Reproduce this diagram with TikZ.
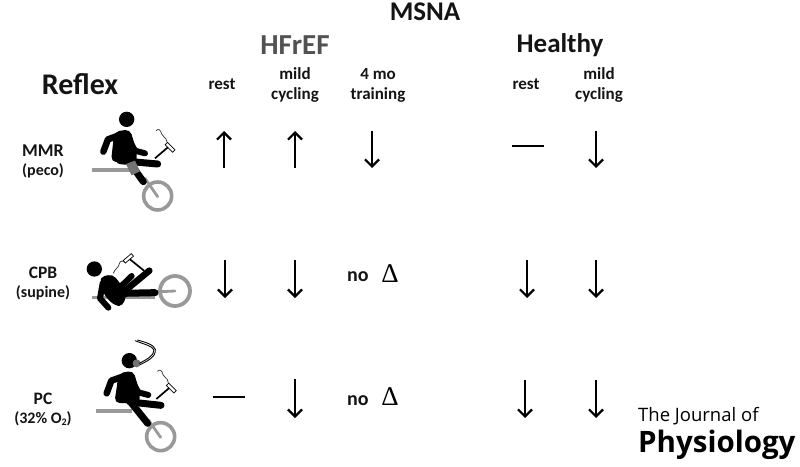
\documentclass[tikz,border=0pt]{standalone}
\usepackage{fontspec}
\setmainfont{Carlito}
\newfontfamily\dfont{Liberation Serif}
\newfontfamily\logofont{Open Sans}
\usetikzlibrary{arrows.meta}
\tikzset{
  lab/.style={font=\bfseries\fontsize{16}{19}\selectfont,align=center,inner sep=0pt,text=black!92},
  hdr/.style={font=\bfseries\fontsize{17}{20}\selectfont,align=center,inner sep=0pt,text=black!92},
  ttl/.style={font=\bfseries\fontsize{27}{28}\selectfont,inner sep=0pt,text=black!92},
  arr/.style={line width=2.2pt,-{Straight Barb[length=7pt,width=14pt,line width=2.2pt]}},
  flat/.style={line width=2pt},
  limb/.style={line cap=round,line join=round,draw=black},
  greyp/.style={draw=black!40,line cap=butt},
  hammer/.style={draw=black,fill=white,line width=0.7pt},
}
\newcommand{\hammerat}[2]{%
  \begin{scope}[shift={(#1,#2)}]
    \draw[line width=1.7pt,black] (-3,35)--(38,0);
    \draw[hammer,rotate around={-45:(42,2)}] (26,-3) rectangle (58,7);
    \draw[line width=0.7pt,black!80] (0,-48) .. controls (8,-56) and (14,-50) .. (17,-38) .. controls (20,-26) and (30,-32) .. (33,-14);
  \end{scope}}
\begin{document}
\begin{tikzpicture}[x=1pt,y=-1pt]
\useasboundingbox (0,0) rectangle (800,466);
% headers
\node[ttl] (msna) at (425,12) {MSNA};
\node[ttl,font=\bfseries\fontsize{29}{30}\selectfont,text=black!68] (hf) at (295,45) {HFrEF};
\node[ttl] (he) at (560,45) {Healthy};
\node[ttl,font=\bfseries\fontsize{30}{30}\selectfont] (refl) at (80,84) {Reflex};
\node[hdr] (h1) at (222,84) {rest};
\node[hdr] (h2) at (295,85) {mild\\cycling};
\node[hdr] (h3) at (378,85) {4 mo\\training};
\node[hdr] (h4) at (526,84) {rest};
\node[hdr] (h5) at (599,85) {mild\\cycling};
% row labels
\node[lab] (r1) at (43,161) {\fontsize{18}{19}\selectfont MMR\\(peco)};
\node[lab] (r2) at (43,284) {\fontsize{17.5}{19}\selectfont CPB\\(supine)};
\node[lab] (r3) at (43,409) {\fontsize{17.5}{19}\selectfont PC\\\fontsize{16}{19}\selectfont (32\% O\raisebox{-0.3ex}{\fontsize{10}{10}\selectfont 2})};
% responses
\draw[arr] (224,168)--(224,131);
\draw[arr] (295,168)--(295,131);
\draw[arr] (372,131)--(372,168);
\draw[flat] (512,146)--(544,146);
\draw[arr] (596,131)--(596,168);
\draw[arr] (225,260)--(225,298);
\draw[arr] (295,260)--(295,298);
\node[hdr,anchor=west,font=\bfseries\fontsize{20}{22}\selectfont] (n1) at (347,277) {no};
\node[inner sep=0pt,font=\dfont\fontsize{27}{28}\selectfont] (d1) at (390,274) {Δ};
\draw[arr] (527,260)--(527,298);
\draw[arr] (596,260)--(596,298);
\draw[flat] (213,397)--(245,397);
\draw[arr] (295,379)--(295,418);
\node[hdr,anchor=west,font=\bfseries\fontsize{20}{22}\selectfont] (n2) at (347,401) {no};
\node[inner sep=0pt,font=\dfont\fontsize{27}{28}\selectfont] (d2) at (390,397) {Δ};
\draw[arr] (525,380)--(525,418);
\draw[arr] (596,380)--(596,418);
% figure 1
\begin{scope}[shift={(80,100)},x=0.3333pt,y=-0.3333pt]
  \draw[greyp,line width=3.6pt] (37,210)--(150,210);
  \draw[greyp,line width=3.6pt] (233,288) circle (42);
  \draw[greyp,line width=2.8pt,line cap=round] (195,235)--(233,290);
  \fill (140,58) circle (23);
  \fill[rounded corners=5pt] (103,95)--(150,88)--(163,130)--(170,155)--(170,192)--(93,185)--(98,140)--cycle;
  \draw[limb,line width=6.5pt] (112,108)--(84,118)--(70,155);
  \draw[limb,line width=6pt] (150,125)--(165,152)--(195,160);
  \draw[limb,line width=7pt] (120,182)--(233,192);
  \draw[limb,line width=7pt] (165,210)--(190,245);
  \fill[black!55] (138,192)--(165,182)--(180,214)--(155,226)--cycle;
  \hammerat{228}{140}
\end{scope}
% figure 2
\begin{scope}[shift={(80,240)},x=0.3333pt,y=-0.3333pt]
  \draw[greyp,line width=3.6pt] (35,172)--(225,172);
  \draw[greyp,line width=3.8pt] (285,153) circle (45);
  \draw[greyp,line width=2.8pt,line cap=round] (225,156)--(285,153);
  \fill (43,87) circle (23);
  \fill[rounded corners=5pt] (58,112)--(98,102)--(140,155)--(130,198)--(105,198)--(72,165)--cycle;
  \draw[limb,line width=6pt] (68,130)--(60,175)--(85,203);
  \draw[limb,line width=6pt] (112,150)--(155,108);
  \draw[limb,line width=6.5pt] (128,158)--(208,92);
  \draw[limb,line width=7pt] (130,160)--(225,158);
  \draw[limb,line width=6pt] (115,188)--(135,158);
  \draw[line width=1.7pt,black] (192,92)--(150,58);
  \draw[hammer,rotate around={40:(145,55)}] (129,50) rectangle (161,60);
  \draw[line width=0.7pt,black!80] (100,100) .. controls (105,85) and (115,85) .. (118,72) .. controls (120,60) and (128,62) .. (136,68);
\end{scope}
% figure 3
\begin{scope}[shift={(80,340)},x=0.3333pt,y=-0.3333pt]
  \draw[greyp,line width=3.6pt] (47,213)--(155,213);
  \draw[greyp,line width=3.6pt] (242,290) circle (42);
  \draw[greyp,line width=2.8pt,line cap=round] (205,240)--(242,292);
  \fill (148,62) circle (23);
  \fill[black!55] (170,70) circle (12);
  \draw[black,line width=0.9pt] (178,70) .. controls (200,58) and (222,48) .. (222,30) .. controls (218,18) and (190,12) .. (165,2);
  \draw[black,line width=0.9pt] (180,74) .. controls (205,62) and (228,50) .. (226,28) .. controls (222,14) and (195,6) .. (172,0);
  \fill[rounded corners=5pt] (115,100)--(160,92)--(173,135)--(180,158)--(178,192)--(103,188)--(110,145)--cycle;
  \draw[limb,line width=6.5pt] (122,112)--(94,122)--(80,160);
  \draw[limb,line width=6pt] (160,130)--(175,157)--(205,165);
  \draw[limb,line width=7pt] (150,186)--(243,196);
  \draw[limb,line width=7pt] (155,190)--(203,250);
  \hammerat{232}{142}
\end{scope}
% logo
\node[anchor=base west,inner sep=0pt,font=\logofont\fontsize{18.5}{20}\selectfont] (lg1) at (638,421) {The Journal of};
\node[anchor=base west,inner sep=0pt,font=\logofont\bfseries\fontsize{29.5}{30}\selectfont] (lg2) at (638,452) {Physiology};
\end{tikzpicture}
\end{document}
